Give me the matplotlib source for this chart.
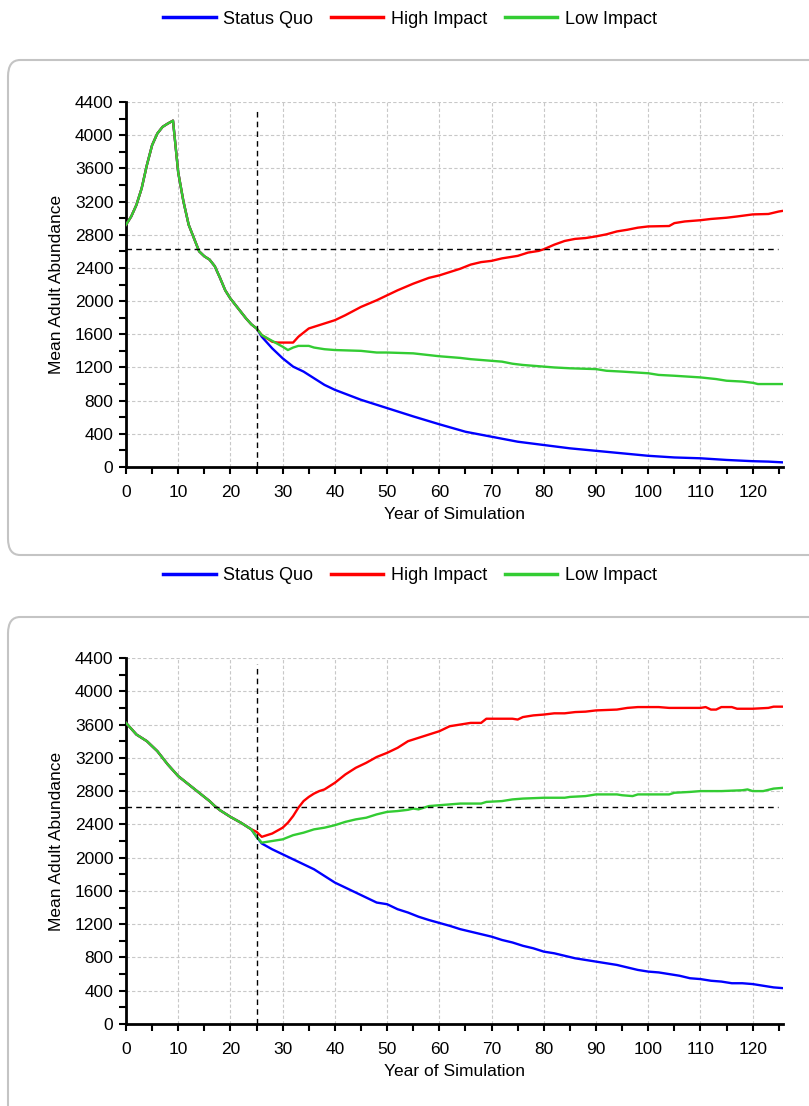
import matplotlib
matplotlib.use("Agg")
import matplotlib.pyplot as plt
from matplotlib.patches import FancyBboxPatch
from matplotlib.lines import Line2D
from matplotlib.ticker import MultipleLocator

plt.rcParams['font.family'] = ['Liberation Sans', 'DejaVu Sans']

series_names = ['Status Quo', 'High Impact', 'Low Impact']
series_colors = ['#0000ff', '#ff0000', '#33cc33']

# ---- top chart ----
top_early_years = list(range(0, 26))
top_early = [2920, 3020, 3160, 3360, 3640, 3880, 4020, 4100, 4140, 4175,
             3550, 3200, 2920, 2760, 2600, 2540, 2500, 2420, 2280, 2130,
             2030, 1950, 1870, 1790, 1720, 1670]

top_sq_years = [26, 28, 30, 32, 34, 36, 38, 40, 45, 50, 55, 60, 65, 70, 75, 80, 85,
                90, 95, 100, 105, 110, 115, 120, 123, 126]
top_sq = [1570, 1430, 1310, 1210, 1150, 1070, 990, 930, 810, 710, 610, 515, 425,
          365, 305, 265, 225, 195, 165, 135, 115, 105, 85, 70, 65, 55]

top_hi_years = [26, 28, 29, 32, 33, 35, 37, 40, 42, 45, 48, 50, 52, 55, 58, 60, 62,
                64, 66, 68, 70, 72, 75, 77, 79, 80, 82, 84, 86, 88, 90, 92, 94, 96,
                98, 100, 104, 105, 107, 110, 112, 115, 117, 120, 123, 125, 126]
top_hi = [1590, 1510, 1500, 1500, 1570, 1670, 1710, 1770, 1830, 1930, 2010, 2070,
          2130, 2210, 2280, 2310, 2350, 2390, 2440, 2470, 2485, 2515, 2545, 2585,
          2605, 2625, 2680, 2725, 2750, 2760, 2780, 2805, 2840, 2860, 2885, 2900,
          2905, 2940, 2960, 2975, 2990, 3005, 3020, 3045, 3050, 3080, 3090]

top_lo_years = [26, 28, 30, 31, 32, 33, 35, 36, 38, 40, 45, 48, 50, 55, 60, 64, 66,
                70, 72, 74, 76, 80, 82, 85, 90, 92, 95, 100, 102, 105, 110, 113, 115,
                118, 120, 121, 126]
top_lo = [1590, 1520, 1450, 1410, 1440, 1460, 1460, 1440, 1420, 1410, 1400, 1380,
          1380, 1370, 1335, 1315, 1300, 1280, 1270, 1245, 1230, 1210, 1200, 1190,
          1180, 1160, 1150, 1130, 1110, 1100, 1080, 1060, 1040, 1030, 1015, 1000, 1000]

# ---- bottom chart ----
bot_early_years = list(range(0, 25))
bot_early = [3620, 3550, 3480, 3440, 3400, 3340, 3280, 3200, 3120, 3050, 2980, 2930,
             2880, 2830, 2780, 2730, 2680, 2620, 2570, 2530, 2490, 2455, 2420, 2380, 2340]

bot_sq_years = [25, 26, 28, 30, 32, 34, 36, 38, 40, 42, 44, 46, 48, 50, 52, 54, 56, 58,
                60, 62, 64, 66, 68, 70, 72, 74, 76, 78, 80, 82, 84, 86, 88, 90, 92, 94,
                96, 98, 100, 102, 104, 106, 108, 110, 112, 114, 116, 118, 120, 122, 124, 126]
bot_sq = [2250, 2170, 2100, 2040, 1980, 1920, 1860, 1780, 1700, 1640, 1580, 1520,
          1460, 1440, 1380, 1340, 1290, 1250, 1215, 1180, 1140, 1110, 1080, 1050,
          1010, 980, 940, 910, 870, 850, 820, 790, 770, 750, 730, 710, 680, 650, 630,
          620, 600, 580, 550, 540, 520, 510, 490, 490, 480, 460, 440, 430]

bot_hi_years = [25, 26, 28, 30, 31, 32, 33, 34, 35, 36, 37, 38, 40, 42, 44, 46, 48, 50,
                52, 54, 56, 58, 60, 62, 64, 66, 68, 69, 74, 75, 76, 78, 80, 82, 84, 86,
                88, 90, 92, 94, 96, 98, 102, 104, 110, 111, 112, 113, 114, 116, 117,
                120, 123, 124, 126]
bot_hi = [2310, 2250, 2290, 2360, 2420, 2500, 2600, 2680, 2730, 2770, 2800, 2820,
          2900, 3000, 3080, 3140, 3210, 3260, 3320, 3400, 3440, 3480, 3520, 3580,
          3600, 3620, 3620, 3670, 3670, 3660, 3690, 3710, 3720, 3735, 3735, 3750,
          3755, 3770, 3775, 3780, 3800, 3810, 3810, 3800, 3800, 3810, 3780, 3780,
          3810, 3810, 3790, 3790, 3800, 3815, 3815]

bot_lo_years = [25, 26, 28, 30, 32, 34, 36, 38, 40, 42, 44, 46, 48, 50, 52, 54, 55, 56,
                58, 60, 64, 68, 69, 72, 74, 76, 80, 84, 85, 88, 90, 94, 95, 97, 98, 104,
                105, 108, 110, 114, 118, 119, 120, 122, 123, 124, 126]
bot_lo = [2250, 2180, 2200, 2220, 2270, 2300, 2340, 2360, 2390, 2430, 2460, 2480,
          2520, 2550, 2560, 2575, 2590, 2580, 2620, 2630, 2650, 2650, 2670, 2680,
          2700, 2710, 2720, 2720, 2730, 2740, 2760, 2760, 2750, 2740, 2760, 2760,
          2780, 2790, 2800, 2800, 2810, 2820, 2800, 2800, 2815, 2830, 2840]

top_threshold = 2630
bot_threshold = 2610
cut_year = 25


def draw_chart(ax, early_years, early, tails, threshold):
    # shared early trajectory + scenario-specific tail
    for (yrs, vals), c in zip(tails, series_colors):
        ax.plot(early_years + yrs, early + vals, color=c, lw=1.7, zorder=3)
    ax.axhline(threshold, xmin=0, xmax=124.8 / 125.8, color='black', ls=(0, (4, 3)), lw=1, zorder=4)
    ax.plot([cut_year, cut_year], [0, 4330], color='black', ls=(0, (4, 3)), lw=1, zorder=4)

    ax.set_xlim(0, 125.8)
    ax.set_ylim(0, 4400)
    ax.xaxis.set_major_locator(MultipleLocator(10))
    ax.xaxis.set_minor_locator(MultipleLocator(5))
    ax.yaxis.set_major_locator(MultipleLocator(400))
    ax.yaxis.set_minor_locator(MultipleLocator(200))
    ax.grid(True, which='major', color='#c8c8c8', ls=(0, (3, 2)), lw=0.8)
    ax.set_axisbelow(True)
    for s in ['top', 'right']:
        ax.spines[s].set_visible(False)
    for s in ['left', 'bottom']:
        ax.spines[s].set_linewidth(2)
    ax.tick_params(which='both', direction='out', width=1.5, length=5, labelsize=12.5)
    ax.tick_params(axis='x', pad=8)
    ax.tick_params(axis='y', pad=4)
    ax.set_xlabel('Year of Simulation', fontsize=12.5, labelpad=5)
    ax.set_ylabel('Mean Adult Abundance', fontsize=12.5, labelpad=8)
    ax.patch.set_alpha(0)


fig = plt.figure(figsize=(8.09, 11.06), dpi=100)

# rounded panel boxes behind the charts
for top_px, bot_px in [(60, 555), (617, 1130)]:
    y0 = 1 - bot_px / 1106
    h = (bot_px - top_px) / 1106
    box = FancyBboxPatch((8 / 809, y0), 1.05, h, transform=fig.transFigure,
                         boxstyle='round,pad=0,rounding_size=0.015',
                         fc='white', ec='#c4c4c4', lw=1.5, zorder=-10)
    fig.patches.append(box)

ax1 = fig.add_axes([126 / 809, 1 - 467 / 1106, 657 / 809, 365 / 1106])
ax2 = fig.add_axes([126 / 809, 1 - 1024 / 1106, 657 / 809, 366 / 1106])

draw_chart(ax1, top_early_years, top_early,
           [(top_sq_years, top_sq), (top_hi_years, top_hi), (top_lo_years, top_lo)], top_threshold)
draw_chart(ax2, bot_early_years, bot_early,
           [(bot_sq_years, bot_sq), (bot_hi_years, bot_hi), (bot_lo_years, bot_lo)], bot_threshold)

handles = [Line2D([], [], color=c, lw=2.5) for c in series_colors]
for ypx in [19, 576]:
    fig.legend(handles, series_names, loc='center', bbox_to_anchor=(410 / 809, 1 - ypx / 1106),
               ncol=3, frameon=False, fontsize=13, handlelength=2.9, handletextpad=0.4,
               columnspacing=1.0)

fig.savefig('out.png', dpi=100)
